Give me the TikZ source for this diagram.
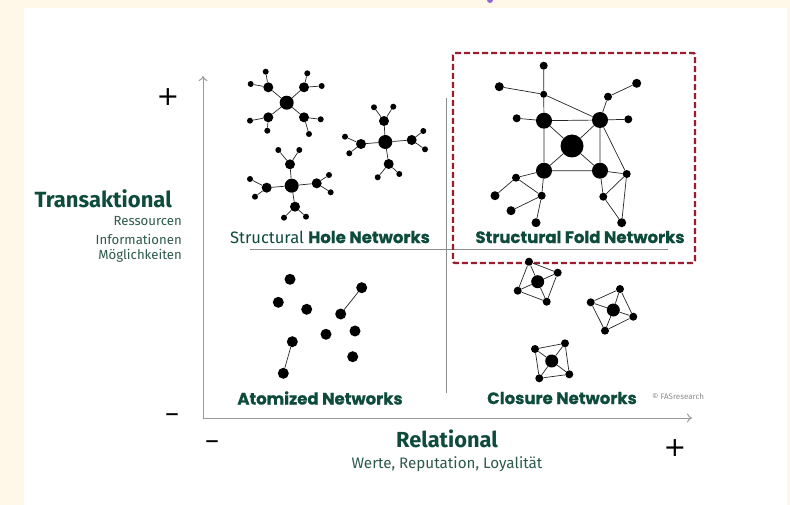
\documentclass[tikz,border=0pt]{standalone}
\usepackage{fontspec}
\setmainfont{Fira Sans}
\newfontfamily\netfont{Poppins}[BoldFeatures={FakeBold=0.6}]
\newfontfamily\signfont{DejaVu Sans}
\usepackage{tikz}
\usetikzlibrary{arrows.meta}

\definecolor{darkgreen}{HTML}{0E4B3B}
\definecolor{subgreen}{HTML}{2E5A4E}
\definecolor{foldred}{HTML}{9B1C2E}
\definecolor{cream}{HTML}{FFF8E8}

\begin{document}
\begin{tikzpicture}[x=1pt,y=-1pt,
  big/.style={circle,fill=black,inner sep=0pt,minimum size=14pt},
  mid/.style={circle,fill=black,inner sep=0pt,minimum size=10pt},
  leaf/.style={circle,fill=black,inner sep=0pt,minimum size=6pt},
  dot/.style={circle,fill=black,inner sep=0pt,minimum size=#1},
  link/.style={black!85,line width=0.7pt},
  axis/.style={black!40,line width=1pt,-{To[length=5pt,width=9pt]}},
  divider/.style={black!45,line width=1pt},
  nettitle/.style={font=\netfont\bfseries\fontsize{16.5}{16.5}\selectfont,text=darkgreen},
  subtext/.style={font=\fontsize{13.2}{13.2}\selectfont,text=subgreen,anchor=east,inner sep=0pt},
  plussign/.style={font=\signfont\fontsize{27}{27}\selectfont,text=black},
  minussign/.style={font=\fontsize{25}{25}\selectfont,text=black}]
\useasboundingbox (0,0) rectangle (790,505);
\fill[cream] (0,0) rectangle (790,505);
\fill[white] (24,8) rectangle (787,505);
\fill[blue!40!violet!60] (490,0) circle (3);

% axes and quadrant lines
\coordinate (origin) at (203,418);
\coordinate (ytip) at (203,76);
\coordinate (xtip) at (692,418);
\draw[axis] (origin) -- (ytip);
\draw[axis] (origin) -- (xtip);
\coordinate (hl) at (250,250);
\coordinate (hr) at (668,250);
\coordinate (vt) at (446,98);
\coordinate (vb) at (446,393);
\draw[divider] (hl) -- (hr);
\draw[divider] (vt) -- (vb);
\draw[foldred,line width=2.4pt,dash pattern=on 6pt off 3pt,rounded corners=2pt] (453,53) rectangle (695,263);

% axis labels
\node[plussign] (yplus) at (168,97) {+};
\node[minussign] (yminus) at (172,418) {–};
\node[minussign] (xminus) at (212,445) {–};
\node[plussign] (xplus) at (675,448) {+};
\node[font=\bfseries\fontsize{22}{22}\selectfont,text=darkgreen,anchor=east,inner sep=0pt] (trans) at (172,199) {Transaktional};
\node[subtext] (res) at (182,221) {Ressourcen};
\node[subtext] (info) at (182,239) {Informationen};
\node[subtext] (moegl) at (182,256) {Möglichkeiten};
\node[font=\bfseries\fontsize{21.8}{21.8}\selectfont,text=darkgreen] (rel) at (447,439) {Relational};
\node[font=\fontsize{15.2}{15.2}\selectfont,text=subgreen] (werte) at (447,464) {Werte, Reputation, Loyalität};
\node[font=\fontsize{8}{8}\selectfont,text=black!45] (copy) at (678,397) {© FASresearch};

% quadrant titles
\node[text=darkgreen] (hole) at (330,237) {\fontsize{16.5}{16.5}\selectfont Structural {\netfont\bfseries Hole Networks}};
\node[nettitle] (fold) at (580,237) {Structural Fold Networks};
\node[nettitle] (atom) at (320,398) {Atomized Networks};
\node[nettitle] (clos) at (562,398) {Closure Networks};

% structural holes: star 1
\node[big] (s1) at (286.7,102.7) {};
\node[mid] (s1a) at (268.3,87.3) {};
\node[mid] (s1b) at (304,87.3) {};
\node[mid] (s1c) at (268.3,117.3) {};
\node[mid] (s1d) at (304,117.3) {};
\node[leaf] (s1a1) at (265.7,71.7) {};
\node[leaf] (s1a2) at (250.7,84) {};
\node[leaf] (s1b1) at (307.3,73.3) {};
\node[leaf] (s1b2) at (321.7,86) {};
\node[leaf] (s1c1) at (250,120.7) {};
\node[leaf] (s1c2) at (267.3,130.7) {};
\node[leaf] (s1d1) at (320.7,119.3) {};
\node[leaf] (s1d2) at (309,134) {};
\draw[link] (s1) -- (s1a) (s1) -- (s1b) (s1) -- (s1c) (s1) -- (s1d)
  (s1a) -- (s1a1) (s1a) -- (s1a2) (s1b) -- (s1b1) (s1b) -- (s1b2)
  (s1c) -- (s1c1) (s1c) -- (s1c2) (s1d) -- (s1d1) (s1d) -- (s1d2);

% structural holes: star 2
\node[big] (s2) at (385.3,142) {};
\node[mid] (s2a) at (384,121) {};
\node[mid] (s2b) at (361,144) {};
\node[mid] (s2c) at (411.7,140) {};
\node[mid] (s2d) at (388.7,164) {};
\node[leaf] (s2a1) at (374,107.3) {};
\node[leaf] (s2a2) at (393.3,106.7) {};
\node[leaf] (s2b1) at (345,136.7) {};
\node[leaf] (s2b2) at (349.3,153.3) {};
\node[leaf] (s2c1) at (423.3,131) {};
\node[leaf] (s2c2) at (425,149.3) {};
\node[leaf] (s2d1) at (377.7,177.3) {};
\node[leaf] (s2d2) at (399.3,174) {};
\draw[link] (s2) -- (s2a) (s2) -- (s2b) (s2) -- (s2c) (s2) -- (s2d)
  (s2a) -- (s2a1) (s2a) -- (s2a2) (s2b) -- (s2b1) (s2b) -- (s2b2)
  (s2c) -- (s2c1) (s2c) -- (s2c2) (s2d) -- (s2d1) (s2d) -- (s2d2);

% structural holes: star 3
\node[big] (s3) at (291.7,185.7) {};
\node[mid] (s3a) at (290,164.3) {};
\node[mid] (s3b) at (266.7,187.7) {};
\node[mid] (s3c) at (316.7,183.3) {};
\node[mid] (s3d) at (295,206.7) {};
\node[leaf] (s3a1) at (278.3,150) {};
\node[leaf] (s3a2) at (299.3,150) {};
\node[leaf] (s3b1) at (250,179) {};
\node[leaf] (s3b2) at (255,196.7) {};
\node[leaf] (s3c1) at (329,175) {};
\node[leaf] (s3c2) at (330.7,192.3) {};
\node[leaf] (s3d1) at (284,217.7) {};
\node[leaf] (s3d2) at (306,216.7) {};
\draw[link] (s3) -- (s3a) (s3) -- (s3b) (s3) -- (s3c) (s3) -- (s3d)
  (s3a) -- (s3a1) (s3a) -- (s3a2) (s3b) -- (s3b1) (s3b) -- (s3b2)
  (s3c) -- (s3c1) (s3c) -- (s3c2) (s3d) -- (s3d1) (s3d) -- (s3d2);

% structural fold
\node[dot=23pt] (f0) at (572,146) {};
\node[dot=16pt] (f1) at (544,120.7) {};
\node[dot=16pt] (f2) at (600,120) {};
\node[dot=16pt] (f3) at (544,170.7) {};
\node[dot=16pt] (f4) at (600,170.7) {};
\node[dot=8pt] (fa) at (543.7,65.7) {};
\node[dot=7pt] (fb) at (543.7,94.3) {};
\node[dot=9pt] (fc) at (499.3,86.7) {};
\node[dot=8pt] (fd) at (608,96.7) {};
\node[dot=9pt] (fe) at (636.7,83.3) {};
\node[dot=8pt] (ff) at (516.7,118.3) {};
\node[dot=8pt] (fg) at (628.3,119.3) {};
\node[dot=8pt] (fh) at (626.7,174) {};
\node[dot=8pt] (fi) at (603.3,196.7) {};
\node[dot=9pt] (fj) at (621.7,222.7) {};
\node[dot=8pt] (fk) at (516,177.7) {};
\node[dot=9pt] (fl) at (495,195.7) {};
\node[dot=8pt] (fm) at (541.7,195.7) {};
\node[dot=9pt] (fn) at (511,210.7) {};
\node[dot=9pt] (fo) at (536,222.7) {};
\draw[link] (f0) -- (f1) (f0) -- (f2) (f0) -- (f3) (f0) -- (f4)
  (f1) -- (f2) (f1) -- (f3) (f2) -- (f4) (f3) -- (f4)
  (fa) -- (fb) (fb) -- (f1) (fc) -- (fb) (fb) -- (f2)
  (f2) -- (fd) (fd) -- (fe) (f1) -- (ff) (f2) -- (fg)
  (f2) -- (fh) (f4) -- (fh) (f4) -- (fi) (fi) -- (fh) (fi) -- (fj) (fh) -- (fj)
  (f3) -- (fk) (fk) -- (fl) (f3) -- (fm) (fk) -- (fm) (fm) -- (fn) (fm) -- (fo);

% atomized
\node[dot=11pt] (a1) at (290,279.3) {};
\node[dot=11pt] (a2) at (278.3,302.3) {};
\node[dot=11pt] (a3) at (306.7,309.3) {};
\node[dot=11pt] (a4) at (361.7,287.7) {};
\node[dot=11pt] (a5) at (340.7,314) {};
\node[dot=11pt] (a6) at (326,334.3) {};
\node[dot=11pt] (a7) at (355,331) {};
\node[dot=11pt] (a8) at (292.3,341.7) {};
\node[dot=11pt] (a9) at (283.3,373.3) {};
\node[dot=11pt] (a10) at (352.7,356.7) {};
\draw[link] (a4) -- (a5) (a8) -- (a9);

% closure: cluster 1
\node[dot=13pt] (c1) at (537.7,281.7) {};
\node[dot=8pt] (c1a) at (529,261.7) {};
\node[dot=8pt] (c1b) at (557.7,272.7) {};
\node[dot=8pt] (c1c) at (546.7,301.7) {};
\node[dot=8pt] (c1d) at (517.7,290.7) {};
\draw[link] (c1a) -- (c1b) -- (c1c) -- (c1d) -- (c1a)
  (c1) -- (c1a) (c1) -- (c1b) (c1) -- (c1c) (c1) -- (c1d);

% closure: cluster 2
\node[dot=13pt] (c2) at (613.3,310) {};
\node[dot=8pt] (c2a) at (620,289) {};
\node[dot=8pt] (c2b) at (633.3,316.7) {};
\node[dot=8pt] (c2c) at (605,330.7) {};
\node[dot=8pt] (c2d) at (590.7,302.3) {};
\draw[link] (c2a) -- (c2b) -- (c2c) -- (c2d) -- (c2a)
  (c2) -- (c2a) (c2) -- (c2b) (c2) -- (c2c) (c2) -- (c2d);

% closure: cluster 3
\node[dot=13pt] (c3) at (551.7,361) {};
\node[dot=8pt] (c3a) at (535,349) {};
\node[dot=8pt] (c3b) at (565,343.3) {};
\node[dot=8pt] (c3c) at (569.3,374.3) {};
\node[dot=8pt] (c3d) at (539.3,378.3) {};
\draw[link] (c3a) -- (c3b) -- (c3c) -- (c3d) -- (c3a)
  (c3) -- (c3a) (c3) -- (c3b) (c3) -- (c3c) (c3) -- (c3d);
\end{tikzpicture}
\end{document}
